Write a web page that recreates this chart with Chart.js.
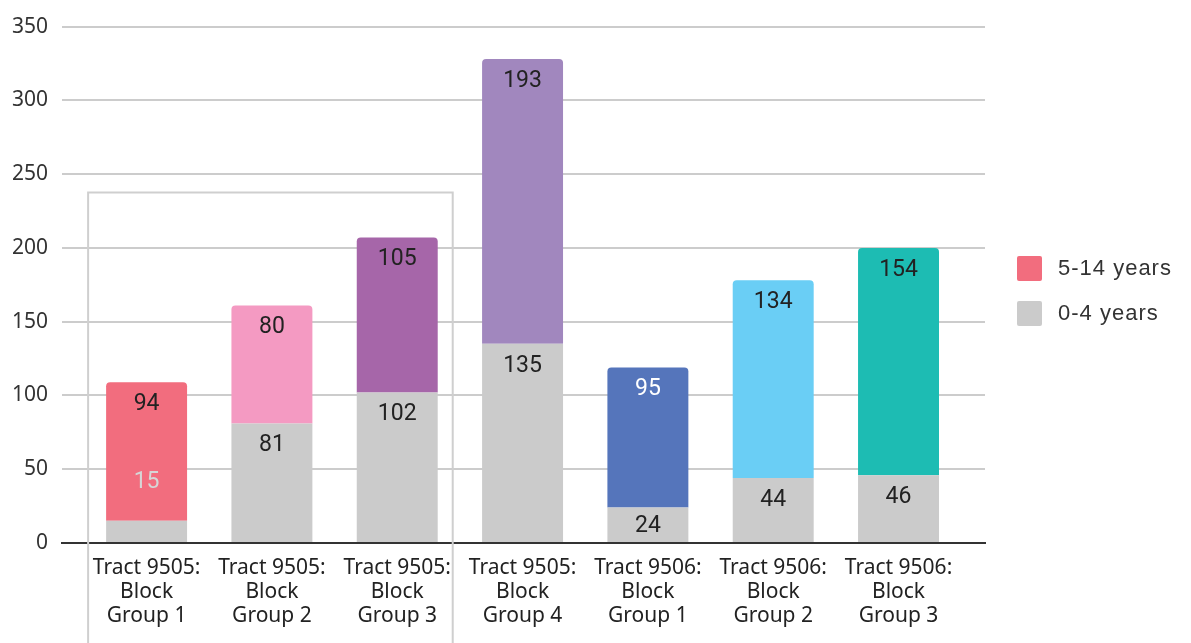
<!DOCTYPE html>
<html>
<head>
<meta charset="utf-8">
<script src="https://cdn.jsdelivr.net/npm/chart.js@4.4.1/dist/chart.umd.min.js"></script>
<style>
  html, body { margin: 0; padding: 0; background: #ffffff; }
  #wrap { width: 1191px; height: 643px; position: relative; }
</style>
</head>
<body>
<div id="wrap"><canvas id="c" width="1191" height="643"></canvas></div>
<script>
// ---- data ----
const categories = [
  "Tract 9505: Block Group 1",
  "Tract 9505: Block Group 2",
  "Tract 9505: Block Group 3",
  "Tract 9505: Block Group 4",
  "Tract 9506: Block Group 1",
  "Tract 9506: Block Group 2",
  "Tract 9506: Block Group 3"
];
const tickLabels = [
  ["Tract 9505:", "Block", "Group 1"],
  ["Tract 9505:", "Block", "Group 2"],
  ["Tract 9505:", "Block", "Group 3"],
  ["Tract 9505:", "Block", "Group 4"],
  ["Tract 9506:", "Block", "Group 1"],
  ["Tract 9506:", "Block", "Group 2"],
  ["Tract 9506:", "Block", "Group 3"]
];
const age0to4 = [15, 81, 102, 135, 24, 44, 46];
const age5to14 = [94, 80, 105, 193, 95, 134, 154];
const yTicks = [0, 50, 100, 150, 200, 250, 300, 350];
const highlightTop = 237.5;   // value level of the highlight box around the first three groups

// ---- styles ----
const greyColor = "#cbcbcb";
const barColors5to14 = ["#f26d7e", "#f49ac2", "#a666a9", "#a187be", "#5575bb", "#6acef5", "#1dbcb3"];
const labelColors5to14 = ["#222222", "#222222", "#222222", "#222222", "#ffffff", "#222222", "#222222"];
const labelColors0to4 = ["#d6d6d6", "#222222", "#222222", "#222222", "#222222", "#222222", "#222222"];

const toPoints = arr => arr.map((v, i) => ({ x: i, y: v }));

const barLabelPlugin = {
  id: "barLabels",
  afterDatasetsDraw(chart) {
    const ctx = chart.ctx;
    ctx.save();
    ctx.font = "23px Roboto";
    ctx.textAlign = "center";
    ctx.textBaseline = "middle";
    chart.data.datasets.forEach((ds, di) => {
      const meta = chart.getDatasetMeta(di);
      meta.data.forEach((el, i) => {
        const top = Math.min(el.y, el.base);
        const bottom = Math.max(el.y, el.base);
        const h = bottom - top;
        let y;
        if (h < 30) y = top - 40;
        else y = Math.min(top + 21, (top + bottom) / 2);
        ctx.fillStyle = ds.labelColors[i];
        ctx.fillText(String(ds.data[i].y), el.x, y + 1);
      });
    });
    ctx.restore();
  }
};

const highlightPlugin = {
  id: "highlightBox",
  afterDatasetsDraw(chart) {
    const ys = chart.scales.y;
    const meta = chart.getDatasetMeta(0);
    const first = meta.data[0], third = meta.data[2];
    const left = first.x - first.width / 2 - 18;
    const right = third.x + third.width / 2 + 15;
    const top = ys.getPixelForValue(highlightTop);
    const ctx = chart.ctx;
    ctx.save();
    ctx.strokeStyle = "#cfcfcf";
    ctx.lineWidth = 2;
    ctx.beginPath();
    ctx.moveTo(left, chart.height + 5);
    ctx.lineTo(left, top);
    ctx.lineTo(right, top);
    ctx.lineTo(right, chart.height + 5);
    ctx.stroke();
    ctx.restore();
  }
};

const legendPlugin = {
  id: "customLegend",
  afterDraw(chart) {
    const ctx = chart.ctx;
    const items = [
      { text: chart.data.datasets[1].label, color: barColors5to14[0] },
      { text: chart.data.datasets[0].label, color: greyColor }
    ];
    const x0 = chart.chartArea.right + 32;
    const y0 = 256;
    ctx.save();
    ctx.font = "22px 'Liberation Sans', Arial, sans-serif";
    if ('letterSpacing' in ctx) ctx.letterSpacing = "1px";
    ctx.textBaseline = "middle";
    ctx.textAlign = "left";
    items.forEach((it, k) => {
      const y = y0 + k * 45;
      ctx.fillStyle = it.color;
      ctx.beginPath();
      if (ctx.roundRect) ctx.roundRect(x0, y, 25, 25, 2); else ctx.rect(x0, y, 25, 25);
      ctx.fill();
      ctx.fillStyle = "#333333";
      ctx.fillText(it.text, x0 + 41, y + 13);
    });
    ctx.restore();
  }
};

new Chart(document.getElementById("c"), {
  type: "bar",
  data: {
    datasets: [
      {
        label: "0-4 years",
        data: toPoints(age0to4),
        backgroundColor: greyColor,
        labelColors: labelColors0to4,
        barPercentage: 0.646,
        categoryPercentage: 1.0,
        borderWidth: 0
      },
      {
        label: "5-14 years",
        data: toPoints(age5to14),
        backgroundColor: barColors5to14,
        labelColors: labelColors5to14,
        barPercentage: 0.646,
        categoryPercentage: 1.0,
        borderWidth: 0,
        borderRadius: { topLeft: 4, topRight: 4, bottomLeft: 0, bottomRight: 0 },
        borderSkipped: false
      }
    ]
  },
  options: {
    responsive: false,
    animation: false,
    layout: { autoPadding: false, padding: { left: 0, right: 206, top: 23, bottom: 0 } },
    plugins: {
      legend: { display: false },
      tooltip: { enabled: false }
    },
    scales: {
      x: {
        type: "linear",
        offset: false,
        min: -0.675,
        max: 6.69,
        stacked: true,
        grid: { display: false, offset: false },
        border: { display: true, color: "#333333", width: 2 },
        afterBuildTicks: s => { s.ticks = categories.map((c, i) => ({ value: i })); },
        afterFit: s => { s.height = 100; },
        ticks: {
          autoSkip: false,
          maxRotation: 0,
          minRotation: 0,
          padding: 5,
          color: "#222222",
          font: { family: "'Noto Sans', 'Open Sans', sans-serif", size: 21, lineHeight: 1.15 },
          callback: v => tickLabels[v] || ""
        }
      },
      y: {
        min: 0,
        max: 350,
        stacked: true,
        afterBuildTicks: s => { s.ticks = yTicks.map(v => ({ value: v })); },
        afterFit: s => { s.width = 62; },
        grid: { color: "#cccccc", lineWidth: 2, drawTicks: false },
        border: { display: false },
        ticks: {
          padding: 14,
          color: "#333333",
          font: { family: "'Noto Sans', 'Open Sans', sans-serif", size: 21 }
        }
      }
    }
  },
  plugins: [barLabelPlugin, highlightPlugin, legendPlugin]
});
</script>
</body>
</html>
